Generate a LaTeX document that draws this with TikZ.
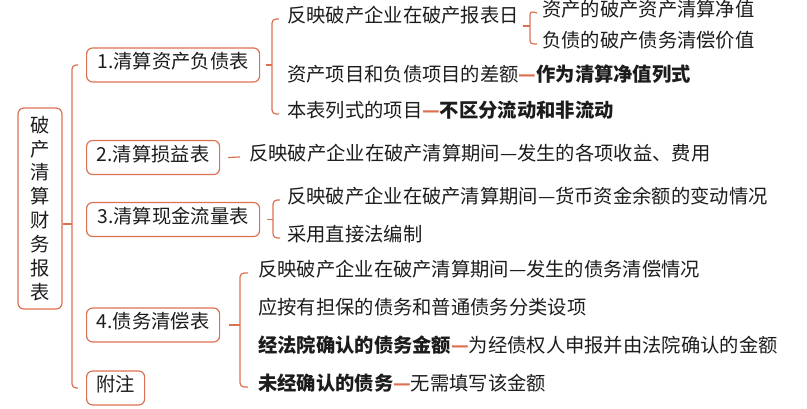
\documentclass[tikz,border=0pt]{standalone}
\usepackage{fontspec}
\setmainfont{Noto Sans CJK SC}
\definecolor{brc}{RGB}{220,112,82}
\definecolor{txt}{RGB}{28,28,28}
\newcommand{\odash}{\textbf{\color{brc}—}}
\begin{document}
\begin{tikzpicture}[x=1pt,y=-1pt,
  font=\fontsize{19.3}{23.9}\selectfont,
  br/.style={draw=brc, line width=1.2pt, rounded corners=4pt},
  tick/.style={draw=brc, line width=1.2pt},
  box/.style={draw=brc, line width=1.2pt, rounded corners=6pt, minimum height=34pt,
    inner sep=0pt, anchor=west, text=txt, text height=0.8em, text depth=0.07em},
  lf/.style={anchor=west, inner sep=0pt, text=txt, text height=0.8em, text depth=0.07em}]
\useasboundingbox (0,0) rectangle (807,409);
% root and level-1 boxes
\node[draw=brc, line width=1.2pt, rounded corners=6pt, minimum width=44pt, minimum height=201pt,
  inner sep=0pt, align=center, text=txt] (root) at (40,208.5) {破\\产\\清\\算\\财\\务\\报\\表};
\node[box, minimum width=173pt] (b1) at (86,65) {1.清算资产负债表};
\node[box, minimum width=133pt] (b2) at (86,157.5) {2.清算损益表};
\node[box, minimum width=173pt] (b3) at (86,219.5) {3.清算现金流量表};
\node[box, minimum width=133pt] (b4) at (86,325) {4.债务清偿表};
\node[box, minimum width=58pt] (b5) at (86,388) {附注};
% leaves
\node[lf] (c11) at (287,19) {反映破产企业在破产报表日};
\node[lf] (c111) at (542,13) {资产的破产资产清算净值};
\node[lf] (c112) at (542,44) {负债的破产债务清偿价值};
\node[lf] (c12) at (287,78) {资产项目和负债项目的差额\odash\textbf{作为清算净值列式}};
\node[lf] (c13) at (287,114) {本表列式的项目\odash\textbf{不区分流动和非流动}};
\node[lf] (c21) at (249,157) {反映破产企业在破产清算期间—发生的各项收益、费用};
\node[lf] (c31) at (287,200) {反映破产企业在破产清算期间—货币资金余额的变动情况};
\node[lf] (c32) at (287,238) {采用直接法编制};
\node[lf] (c41) at (258,273) {反映破产企业在破产清算期间—发生的债务清偿情况};
\node[lf] (c42) at (258,311) {应按有担保的债务和普通债务分类设项};
\node[lf] (c43) at (258,349) {\textbf{经法院确认的债务金额}\odash 为经债权人申报并由法院确认的金额};
\node[lf] (c44) at (258,387) {\textbf{未经确认的债务}\odash 无需填写该金额};
% trunk
\coordinate (rt) at (72,224);
\draw[tick] (root.east |- rt) -- (rt);
\draw[br] ([xshift=-8pt]b1.west) -- ([xshift=-14pt]b1.west) -- ([xshift=-14pt]b5.west) -- ([xshift=-8pt]b5.west);
% box1 bracket
\coordinate (k1) at ([xshift=-15pt]c11.west);
\draw[tick] ([xshift=6pt]b1.east) -- (k1 |- b1.east);
\draw[br] ([xshift=-8pt]c11.west) -- (k1) -- ([xshift=-15pt]c13.west) -- ([xshift=-8pt]c13.west);
% sub brace
\coordinate (s0) at (530,26);
\draw[tick] ([xshift=4pt]c11.east |- s0) -- (s0);
\draw[tick] ([xshift=-5pt]c111.west) .. controls (530,11) and (530,12) .. (530,17) -- (530,22)
  .. controls (530,25) .. (s0) .. controls (530,27) .. (530,30) -- (530,39)
  .. controls (530,43) and (530,44) .. ([xshift=-5pt]c112.west);
% box2 line
\draw[tick] ([xshift=8pt]b2.east) -- ([xshift=-9pt]c21.west);
% box3 bracket
\coordinate (k3) at ([xshift=-14pt]c31.west);
\draw[tick] ([xshift=7pt]b3.east) -- (k3 |- b3.east);
\draw[br] ([xshift=-7pt]c31.west) -- (k3) -- ([xshift=-14pt]c32.west) -- ([xshift=-7pt]c32.west);
% box4 bracket
\coordinate (k4) at ([xshift=-18pt]c41.west);
\draw[tick] ([xshift=9pt]b4.east) -- (k4 |- b4.east);
\draw[br] ([xshift=-10pt]c41.west) -- (k4) -- ([xshift=-18pt]c44.west) -- ([xshift=-10pt]c44.west);
\end{tikzpicture}
\end{document}
